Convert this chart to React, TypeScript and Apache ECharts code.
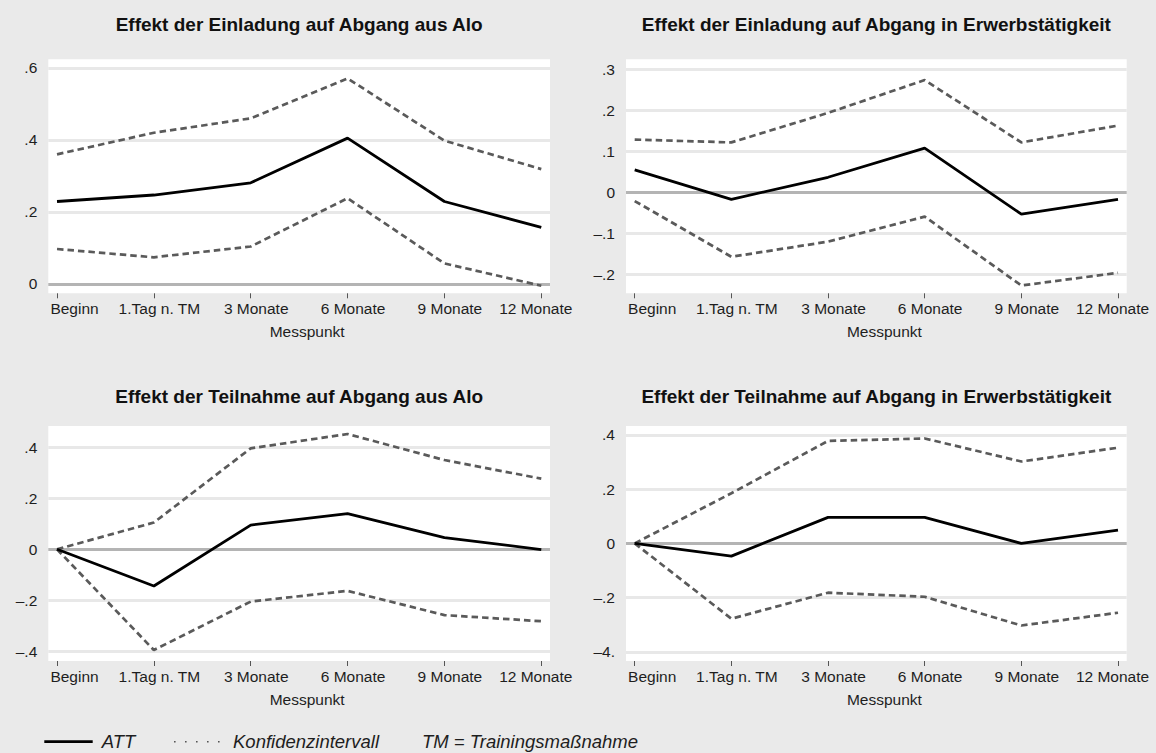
import React, { useEffect, useRef } from "react";
import * as echarts from "echarts";

// ---------- data ----------
const categories = ["Beginn", "1.Tag n. TM", "3 Monate", "6 Monate", "9 Monate", "12 Monate"];

const titles = [
  "Effekt der Einladung auf Abgang aus Alo",
  "Effekt der Einladung auf Abgang in Erwerbstätigkeit",
  "Effekt der Teilnahme auf Abgang aus Alo",
  "Effekt der Teilnahme auf Abgang in Erwerbstätigkeit",
];

const att1 = [0.229, 0.247, 0.281, 0.405, 0.229, 0.157];
const upper1 = [0.36, 0.42, 0.46, 0.571, 0.398, 0.319];
const lower1 = [0.097, 0.074, 0.104, 0.238, 0.057, -0.005];

const att2 = [0.054, -0.018, 0.036, 0.107, -0.054, -0.018];
const upper2 = [0.128, 0.121, 0.193, 0.273, 0.121, 0.162];
const lower2 = [-0.022, -0.158, -0.121, -0.06, -0.228, -0.197];

const att3 = [0, -0.144, 0.095, 0.14, 0.046, -0.001];
const upper3 = [0, 0.105, 0.396, 0.452, 0.35, 0.277];
const lower3 = [0, -0.395, -0.205, -0.163, -0.258, -0.282];

const att4 = [0, -0.047, 0.096, 0.096, 0, 0.049];
const upper4 = [0, 0.185, 0.378, 0.387, 0.302, 0.353];
const lower4 = [0, -0.278, -0.182, -0.197, -0.303, -0.256];

const ticks1 = [0, 0.2, 0.4, 0.6];
const tickLabels1 = ["0", ".2", ".4", ".6"];
const ticks2 = [-0.2, -0.1, 0, 0.1, 0.2, 0.3];
const tickLabels2 = ["–.2", "–.1", "0", ".1", ".2", ".3"];
const ticks3 = [-0.4, -0.2, 0, 0.2, 0.4];
const tickLabels3 = ["–.4", "–.2", "0", ".2", ".4"];
const ticks4 = [-0.4, -0.2, 0, 0.2, 0.4];
const tickLabels4 = ["–4.", "–.2", "0", ".2", ".4"];

const xAxisName = "Messpunkt";
const legendAtt = "ATT";
const legendCi = "Konfidenzintervall";
const legendNote = "TM = Trainingsmaßnahme";

// ---------- layout ----------
const FONT = "'Liberation Sans', Arial, Helvetica, sans-serif";
const panels = [
  { left: 48.3, top: 59.3, width: 501.7, height: 234, yMin: -0.026, yMax: 0.624, att: att1, up: upper1, lo: lower1, ticks: ticks1, labels: tickLabels1, titleTop: 15 },
  { left: 626, top: 59.3, width: 500.7, height: 234, yMin: -0.247, yMax: 0.3237, att: att2, up: upper2, lo: lower2, ticks: ticks2, labels: tickLabels2, titleTop: 15 },
  { left: 48.3, top: 426, width: 501.7, height: 235, yMin: -0.438, yMax: 0.4835, att: att3, up: upper3, lo: lower3, ticks: ticks3, labels: tickLabels3, titleTop: 387.5 },
  { left: 626, top: 426, width: 500.7, height: 235, yMin: -0.434, yMax: 0.433, att: att4, up: upper4, lo: lower4, ticks: ticks4, labels: tickLabels4, titleTop: 387.5 },
];

const catIdx = categories.map((_, i) => i);
const toPts = (arr: number[]) => arr.map((v, i) => [i, v]);

export default function App() {
  const ref = useRef<HTMLDivElement>(null);

  useEffect(() => {
    if (!ref.current) return;
    const chart = echarts.init(ref.current, undefined, { renderer: "svg" });

    const grid: any[] = [];
    const xAxis: any[] = [];
    const yAxis: any[] = [];
    const series: any[] = [];
    const title: any[] = [];

    panels.forEach((p, k) => {
      grid.push({
        left: p.left,
        top: p.top,
        width: p.width,
        height: p.height,
        show: true,
        backgroundColor: "#ffffff",
        borderWidth: 0,
        containLabel: false,
      });
      title.push({
        text: titles[k],
        left: p.left + p.width / 2,
        top: p.titleTop - 0.5,
        textAlign: "center",
        padding: 0,
        textStyle: { fontFamily: FONT, fontSize: 19, fontWeight: "bold", color: "#111111" },
      });
      xAxis.push({
        type: "value",
        gridIndex: k,
        min: -0.09,
        max: 5.09,
        name: xAxisName,
        nameLocation: "middle",
        nameGap: 30,
        nameTextStyle: { fontFamily: FONT, fontSize: 15.5, color: "#1e1e1e", padding: [0, 0, 0, 16] },
        axisLine: { show: false, onZero: false },
        splitLine: { show: false },
        axisTick: { show: true, customValues: catIdx, length: 5, lineStyle: { color: "#555555", width: 1 } },
        axisLabel: {
          customValues: catIdx,
          margin: 7,
          fontFamily: FONT,
          fontSize: 15.5,
          color: "#1e1e1e",
          formatter: (v: number) => {
            const i = Math.round(v);
            const key = i === 0 ? "first" : i === categories.length - 1 ? "last" : "mid";
            return `{${key}|${categories[i]}}`;
          },
          rich: {
            first: { fontFamily: FONT, fontSize: 15.5, color: "#1e1e1e", padding: [0, 0, 0, 35] },
            mid: { fontFamily: FONT, fontSize: 15.5, color: "#1e1e1e", padding: [0, 0, 0, 11] },
            last: { fontFamily: FONT, fontSize: 15.5, color: "#1e1e1e", padding: [0, 11, 0, 0] },
          },
        },
      });
      yAxis.push({
        type: "value",
        gridIndex: k,
        min: p.yMin,
        max: p.yMax,
        axisLine: { show: false },
        axisTick: { show: false },
        splitLine: { show: false },
        axisLabel: {
          customValues: p.ticks,
          margin: 11,
          fontFamily: FONT,
          fontSize: 15.5,
          color: "#1e1e1e",
          formatter: (v: number) => {
            const idx = p.ticks.findIndex((t) => Math.abs(t - v) < 1e-9);
            return idx >= 0 ? p.labels[idx] : "";
          },
        },
      });
      const dashed = {
        type: "line",
        xAxisIndex: k,
        yAxisIndex: k,
        symbol: "none",
        showSymbol: false,
        silent: true,
        z: 3,
        lineStyle: { color: "#5a5a5a", width: 2.7, type: [6.5, 4] },
      };
      series.push({ ...dashed, name: "upper" + k, data: toPts(p.up) });
      series.push({ ...dashed, name: "lower" + k, data: toPts(p.lo) });
      series.push({
        type: "line",
        name: "att" + k,
        xAxisIndex: k,
        yAxisIndex: k,
        symbol: "none",
        showSymbol: false,
        silent: true,
        z: 4,
        lineStyle: { color: "#000000", width: 2.8 },
        data: toPts(p.att),
        markLine: {
          silent: true,
          symbol: ["none", "none"],
          z: 1,
          label: { show: false },
          emphasis: { disabled: true },
          data: p.ticks.map((t) => ({
            yAxis: t,
            lineStyle: t === 0
              ? { color: "#b4b4b4", width: 2.8, type: "solid" }
              : { color: "#e8e8e8", width: 2.8, type: "solid" },
          })),
        },
      });
    });

    const legendY = 741.7;
    const graphic: any[] = [
      { type: "line", shape: { x1: 44.3, y1: legendY, x2: 92.7, y2: legendY }, style: { stroke: "#000", lineWidth: 2.8 } },
      { type: "text", x: 101.7, y: legendY, style: { text: legendAtt, fontFamily: FONT, fontSize: 18.5, fontStyle: "italic", fill: "#1e1e1e", verticalAlign: "middle" } },
      { type: "line", shape: { x1: 174, y1: legendY, x2: 221, y2: legendY }, style: { stroke: "#555", lineWidth: 1.6, lineDash: [1.6, 9.4] } },
      { type: "text", x: 233, y: legendY, style: { text: legendCi, fontFamily: FONT, fontSize: 18.5, fontStyle: "italic", fill: "#1e1e1e", verticalAlign: "middle" } },
      { type: "text", x: 422, y: legendY, style: { text: legendNote, fontFamily: FONT, fontSize: 18.5, fontStyle: "italic", fill: "#1e1e1e", verticalAlign: "middle" } },
    ];

    chart.setOption({
      animation: false,
      backgroundColor: "#eaeaea",
      textStyle: { fontFamily: FONT },
      title,
      grid,
      xAxis,
      yAxis,
      series,
      graphic,
    });

    return () => chart.dispose();
  }, []);

  return (
    <div
      ref={ref}
      style={{ position: "fixed", left: 0, top: 0, width: 1156, height: 753 }}
    />
  );
}
